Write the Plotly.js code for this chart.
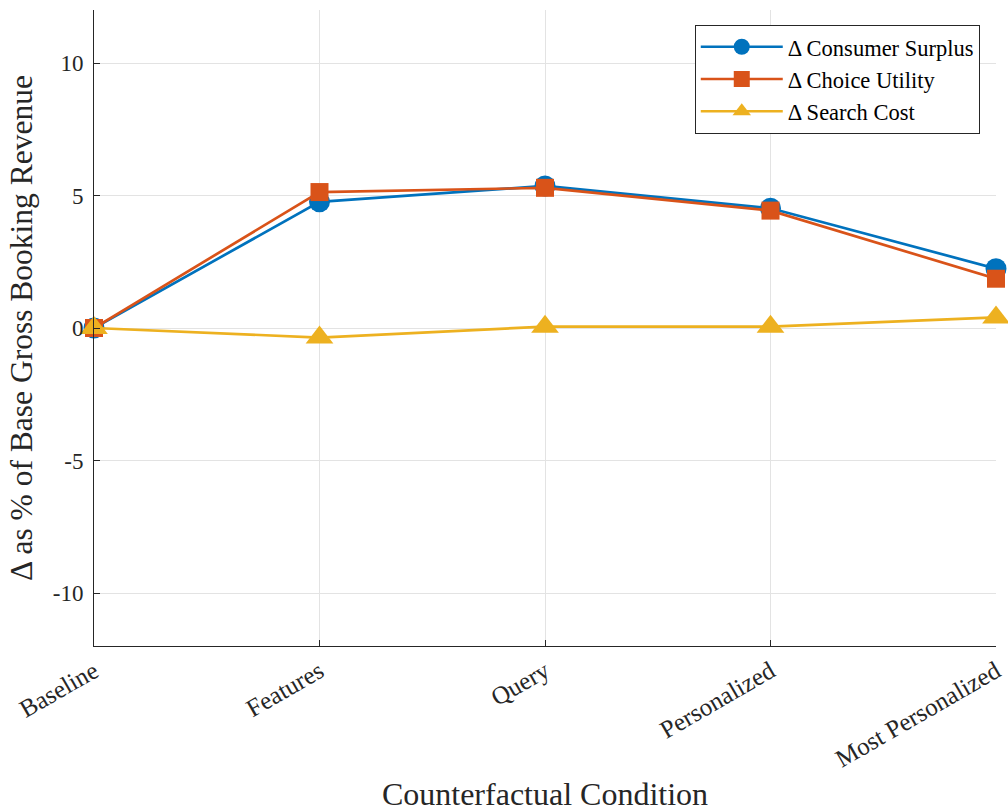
<!DOCTYPE html>
<html><head><meta charset="utf-8">
<script src="https://cdn.plot.ly/plotly-3.0.1.min.js"></script>
<style>body{margin:0;background:#fff}#c{width:1008px;height:812px}</style>
</head><body><div id="c"></div>
<script>
const categories = ["Baseline", "Features", "Query", "Personalized", "Most Personalized"];
const consumerSurplus = [0, 4.76, 5.36, 4.52, 2.24];
const choiceUtility = [0, 5.13, 5.29, 4.43, 1.86];
const searchCost = [0, -0.36, 0.05, 0.05, 0.40];
const seriesNames = ["Δ Consumer Surplus", "Δ Choice Utility", "Δ Search Cost"];
const yTicks = [-10, -5, 0, 5, 10];

const xs = categories.map((_, i) => i);
const font = "Liberation Serif, DejaVu Serif, serif";
function tr(y, name, color, symbol, size) {
  return {x: xs, y: y, name: name, type: "scatter", mode: "lines+markers",
    line: {color: color, width: 2.7},
    marker: {color: color, symbol: symbol, size: size, line: {width: 0}},
    cliponaxis: false};
}
const data = [
  tr(consumerSurplus, seriesNames[0], "#0072BD", "circle", 21),
  tr(choiceUtility, seriesNames[1], "#D95319", "square", 18),
  tr(searchCost, seriesNames[2], "#EDB120", "triangle-up", 24)
];
const layout = {
  width: 1008, height: 812,
  margin: {l: 94, r: 12, t: 10, b: 166},
  paper_bgcolor: "#fff", plot_bgcolor: "#fff",
  font: {family: font, size: 22, color: "#262626"},
  showlegend: true,
  legend: {x: 0.982, y: 0.977, xanchor: "right", yanchor: "top",
    bordercolor: "#262626", borderwidth: 1, bgcolor: "#fff",
    font: {family: font, size: 22.5, color: "#000"}, tracegroupgap: 0,
    itemwidth: 82},
  xaxis: {range: [0, 4], tickmode: "array", tickvals: xs, ticktext: categories,
    tickangle: -30, showgrid: true, gridcolor: "#e3e3e3", gridwidth: 1,
    zeroline: false, showline: true, linecolor: "#262626", linewidth: 1,
    ticks: "inside", ticklen: 6, tickcolor: "#262626",
    tickfont: {family: font, size: 25, color: "#262626"},
    title: {text: "Counterfactual Condition", font: {family: font, size: 32, color: "#262626"}, standoff: 13}},
  yaxis: {range: [-12, 12], tickmode: "array", tickvals: yTicks, ticktext: yTicks.map(String),
    showgrid: true, gridcolor: "#e3e3e3", gridwidth: 1,
    zeroline: false, showline: true, linecolor: "#262626", linewidth: 1,
    ticks: "inside", ticklen: 6, tickcolor: "#262626", ticklabelstandoff: 5,
    tickfont: {family: font, size: 23, color: "#262626"},
    title: {text: "Δ as % of Base Gross Booking Revenue", font: {family: font, size: 31.5, color: "#262626"}, standoff: 10}}
};
Plotly.newPlot("c", data, layout, {displayModeBar: false, staticPlot: true});
</script></body></html>
